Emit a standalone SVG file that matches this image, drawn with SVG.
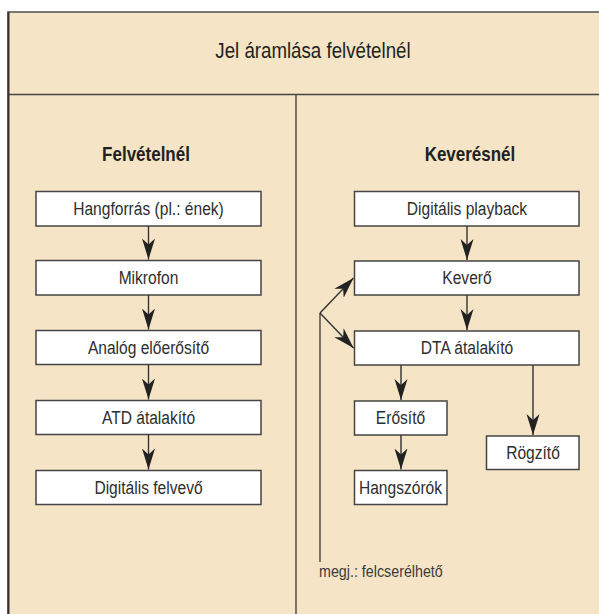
<svg xmlns="http://www.w3.org/2000/svg" width="599" height="614" viewBox="0 0 599 614">
<defs>
<marker id="ah" markerUnits="userSpaceOnUse" markerWidth="22" markerHeight="14" refX="21" refY="7" orient="auto">
<path d="M21,7 L0,0.5 L6,7 L0,13.5 Z" fill="#222"/>
</marker>
<style>
.frame{fill:#F5E5C6;stroke:#5a5a5a;stroke-width:1.6}
.box{fill:#fff;stroke:#444;stroke-width:1.5}
.t{font-family:"Liberation Sans",Arial,sans-serif;fill:#2e2e2e;text-anchor:middle}
.bt{font-size:19px}
.hd{font-size:20px;font-weight:bold;fill:#222}
.ttl{font-size:22px;fill:#222}
.con{stroke:#333;stroke-width:1.4;fill:none;marker-end:url(#ah)}
.ln{stroke:#444;stroke-width:1.4;fill:none}
</style>
</defs>
<rect x="0" y="0" width="599" height="614" fill="#fff"/>
<g id="frame">
<rect class="frame" x="8" y="12" width="640" height="640"/>
<line x1="8" y1="94.5" x2="599" y2="94.5" stroke="#444" stroke-width="1.6"/>
<line x1="296" y1="94.5" x2="296" y2="614" stroke="#444" stroke-width="1.4"/>
<line x1="8.5" y1="12" x2="8.5" y2="614" stroke="#3a3030" stroke-width="2"/>
<text class="t ttl" transform="scale(0.85,1)" x="368.2" y="58.5">Jel áramlása felvételnél</text>
</g>
<g id="head-left"><text class="t hd" transform="scale(0.85,1)" x="171.8" y="161">Felvételnél</text></g>
<g id="head-right"><text class="t hd" transform="scale(0.85,1)" x="552.9" y="161">Keverésnél</text></g>
<g id="n-hangforras"><rect class="box" x="36" y="191.5" width="225" height="34.5"/><text class="t bt" transform="scale(0.82,1)" x="181.1" y="215">Hangforrás (pl.: ének)</text></g>
<g id="n-mikrofon"><rect class="box" x="36" y="260.5" width="225" height="34.5"/><text class="t bt" transform="scale(0.82,1)" x="181.1" y="284">Mikrofon</text></g>
<g id="n-analog"><rect class="box" x="36" y="330.5" width="225" height="34"/><text class="t bt" transform="scale(0.82,1)" x="181.1" y="354">Analóg előerősítő</text></g>
<g id="n-atd"><rect class="box" x="36" y="400.5" width="225" height="34"/><text class="t bt" transform="scale(0.82,1)" x="181.1" y="424">ATD átalakító</text></g>
<g id="n-digfelv"><rect class="box" x="36" y="470.5" width="225" height="34"/><text class="t bt" transform="scale(0.82,1)" x="181.1" y="494">Digitális felvevő</text></g>
<g id="n-playback"><rect class="box" x="354.5" y="191.5" width="224.5" height="34.5"/><text class="t bt" transform="scale(0.82,1)" x="569.5" y="215">Digitális playback</text></g>
<g id="n-kevero"><rect class="box" x="354.5" y="261" width="224.5" height="34"/><text class="t bt" transform="scale(0.82,1)" x="569.5" y="284.5">Keverő</text></g>
<g id="n-dta"><rect class="box" x="354.5" y="331" width="224.5" height="34"/><text class="t bt" transform="scale(0.82,1)" x="569.5" y="354.5">DTA átalakító</text></g>
<g id="n-erosito"><rect class="box" x="354.5" y="401" width="92.5" height="34"/><text class="t bt" transform="scale(0.82,1)" x="488.4" y="424.5">Erősítő</text></g>
<g id="n-hangszorok"><rect class="box" x="354.5" y="470.5" width="92.5" height="34"/><text class="t bt" transform="scale(0.82,1)" x="488.4" y="494">Hangszórók</text></g>
<g id="n-rogzito"><rect class="box" x="486.5" y="436" width="92.5" height="33.5"/><text class="t bt" transform="scale(0.82,1)" x="650" y="459.5">Rögzítő</text></g>
<g id="connectors">
<line class="con" x1="148.5" y1="226" x2="148.5" y2="259.5"/>
<line class="con" x1="148.5" y1="295" x2="148.5" y2="329.5"/>
<line class="con" x1="148.5" y1="364.5" x2="148.5" y2="399.5"/>
<line class="con" x1="148.5" y1="434.5" x2="148.5" y2="469.5"/>
<line class="con" x1="467" y1="226" x2="467" y2="260"/>
<line class="con" x1="467" y1="295" x2="467" y2="330"/>
<line class="con" x1="401" y1="365" x2="401" y2="400"/>
<line class="con" x1="401" y1="435" x2="401" y2="469.5"/>
<line class="con" x1="533" y1="365" x2="533" y2="435"/>
<line class="ln" x1="320" y1="562" x2="320" y2="313"/>
<line class="con" x1="320" y1="313" x2="353.5" y2="278"/>
<line class="con" x1="320" y1="313" x2="353.5" y2="348"/>
</g>
<g id="note"><text class="t" transform="scale(0.84,1)" style="font-size:17px;text-anchor:start;fill:#3a3a3a" x="379.8" y="577">megj.: felcserélhető</text></g>
</svg>
